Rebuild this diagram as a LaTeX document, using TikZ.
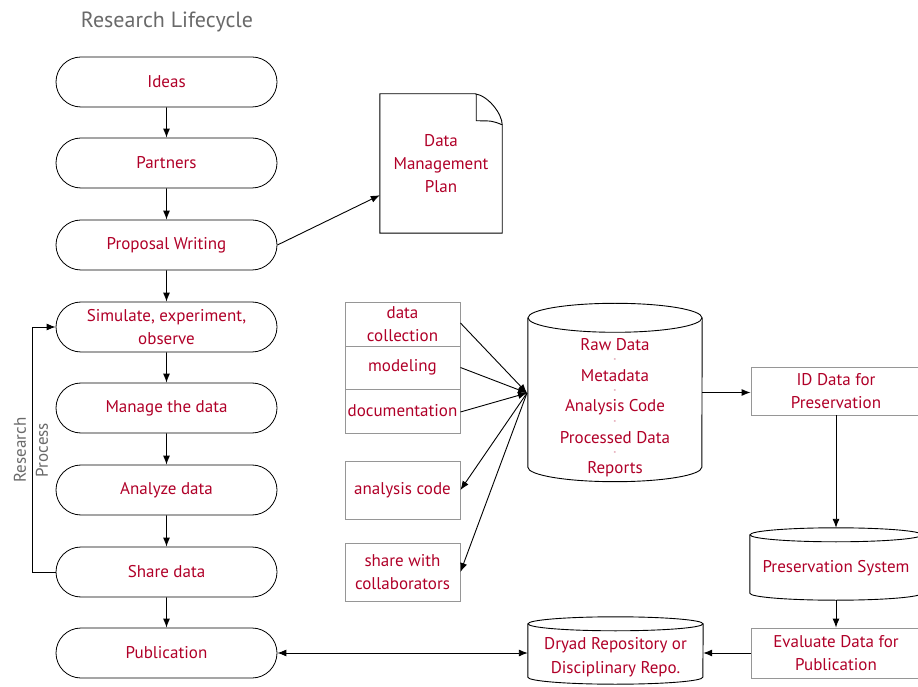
\documentclass[tikz,border=0pt]{standalone}
\usepackage{fontspec}
\setmainfont{PT Sans}
\usetikzlibrary{shapes.misc,arrows.meta,calc}
\definecolor{txt}{RGB}{176,0,40}
\definecolor{ttl}{RGB}{105,105,105}
\definecolor{gbox}{RGB}{150,150,150}
\begin{document}
\begin{tikzpicture}[x=1pt,y=1pt,
  every node/.style={inner sep=0pt},
  tfont/.style={font=\fontsize{17}{23}\selectfont},
  stad/.style={draw, rounded rectangle, minimum width=221pt, minimum height=50pt, text=txt, tfont, align=center, line width=0.8pt},
  gb/.style={draw=gbox, line width=0.9pt, minimum width=115pt, text=txt, tfont, align=center},
  rb/.style={draw=gbox, line width=0.9pt, minimum width=170pt, text=txt, tfont, align=center},
  body/.style={draw=none, minimum width=#1, inner sep=0pt},
  lbl/.style={text=txt, tfont, align=center},
  sep/.style={text=txt, font=\fontsize{7}{7}\selectfont},
  arr/.style={-{Latex[length=9pt,width=7pt]}, line width=0.9pt},
  ln/.style={line width=0.9pt}]
\useasboundingbox (0,0) rectangle (918,686);

% title
\node[text=ttl, font=\fontsize{22}{25}\selectfont] (title) at (167,664) {Research Lifecycle};

% left column
\node[stad] (ideas) at (166.5,604) {Ideas};
\node[stad] (partners) at (166.5,523) {Partners};
\node[stad] (proposal) at (166.5,441) {Proposal Writing};
\node[stad] (sim) at (166.5,359) {Simulate, experiment,\\observe};
\node[stad] (manage) at (166.5,278) {Manage the data};
\node[stad] (analyze) at (166.5,196) {Analyze data};
\node[stad] (share) at (166.5,114) {Share data};
\node[stad] (pub) at (166.5,33) {Publication};

\draw[arr] (ideas) -- (partners);
\draw[arr] (partners) -- (proposal);
\draw[arr] (proposal) -- (sim);
\draw[arr] (sim) -- (manage);
\draw[arr] (manage) -- (analyze);
\draw[arr] (analyze) -- (share);
\draw[arr] (share) -- (pub);

% research loop
\coordinate (loopx) at (32,0);
\draw[arr] (share.west) -- (share.west -| loopx) |- (sim.west);
\node[text=ttl, rotate=90, align=center, font=\fontsize{17}{22}\selectfont] (rp) at (31,236) {Research\\Process};

% data management plan
\node[body=122pt, minimum height=139pt] (dmp) at (441,522.5) {};
\draw[ln] (dmp.south west) -- (dmp.north west) -- ($(dmp.north east)+(-27,0)$)
  .. controls ($(dmp.north east)+(-14,-2)$) and ($(dmp.north east)+(0,-20)$) .. ($(dmp.north east)+(0,-31)$)
  -- (dmp.south east) -- cycle;
\draw[ln] ($(dmp.north east)+(-26,0)$) -- ($(dmp.north east)+(-26,-27)$)
  .. controls ($(dmp.north east)+(-10,-27)$) .. ($(dmp.north east)+(0,-31)$);
\node[lbl] (dmpt) at (dmp.center) {Data\\Management\\Plan};
\draw[arr] (proposal.east) -- ($(dmp.south west)+(0,38)$);

% activity boxes
\node[gb, minimum height=44pt] (coll) at (402.5,362) {data\\collection};
\node[gb, minimum height=43pt] (model) at (402.5,318.5) {modeling};
\node[gb, minimum height=44pt] (doc) at (402.5,275) {documentation};
\node[gb, minimum height=58pt] (acode) at (402.5,196) {analysis code};
\node[gb, minimum height=58pt] (collab) at (402.5,114) {share with\\collaborators};

% raw data cylinder
\node[body=174pt, minimum height=149pt] (raw) at (615,293.5) {};
\draw[ln] (raw.north west) -- (raw.south west) arc[start angle=180, end angle=360, x radius=87, y radius=14.5] -- (raw.north east);
\draw[ln] (raw.north) ellipse[x radius=87, y radius=14.5];
\node[lbl] (r1) at (615,341) {Raw Data};
\node[sep] (s1) at (615,326) {-};
\node[lbl] (r2) at (615,310) {Metadata};
\node[sep] (s2) at (615,295) {-};
\node[lbl] (r3) at (615,279) {Analysis Code};
\node[sep] (s3) at (615,264) {-};
\node[lbl] (r4) at (615,248) {Processed Data};
\node[sep] (s4) at (615,233) {-};
\node[lbl] (r5) at (615,217) {Reports};

\coordinate (hub) at (527,293);
\draw[arr] ($(coll.east)+(0,1)$) -- (hub);
\draw[arr] ($(model.east)+(0,0)$) -- (hub);
\draw[arr] ($(doc.east)+(0,-1)$) -- (hub);
\draw[arr] (hub) -- (acode.east);
\draw[arr] (hub) -- (collab.east);

% preservation path
\node[rb, minimum height=48pt] (id) at (836,295) {ID Data for\\Preservation};
\draw[arr] (raw.east) -- (raw.east -| id.west);

\node[body=172pt, minimum height=58pt] (pres) at (836,122) {};
\draw[ln] (pres.north west) -- (pres.south west) arc[start angle=180, end angle=360, x radius=86, y radius=7] -- (pres.north east);
\draw[ln] (pres.north) ellipse[x radius=86, y radius=7];
\node[lbl] (prest) at (836,118) {Preservation System};
\draw[arr] (id.south) -- ($(pres.north)+(0,7)$);

\node[rb, minimum height=50pt] (eval) at (836,33) {Evaluate Data for\\Publication};
\draw[arr] ($(pres.south)+(0,-7)$) -- (eval.north);

% dryad
\node[body=175pt, minimum height=53pt] (dry) at (615.5,35.5) {};
\draw[ln] (dry.north west) -- (dry.south west) arc[start angle=180, end angle=360, x radius=87.5, y radius=7] -- (dry.north east);
\draw[ln] (dry.north) ellipse[x radius=87.5, y radius=7];
\node[lbl, font=\fontsize{17}{24}\selectfont] (dryt) at (615.5,29) {Dryad Repository or\\Disciplinary Repo.};
\draw[arr] (eval.west) -- (eval.west -| dry.east);
\draw[{Latex[length=9pt,width=7pt]}-{Latex[length=9pt,width=7pt]}, line width=0.9pt] (pub.east) -- (pub.east -| dry.west);
\end{tikzpicture}
\end{document}
